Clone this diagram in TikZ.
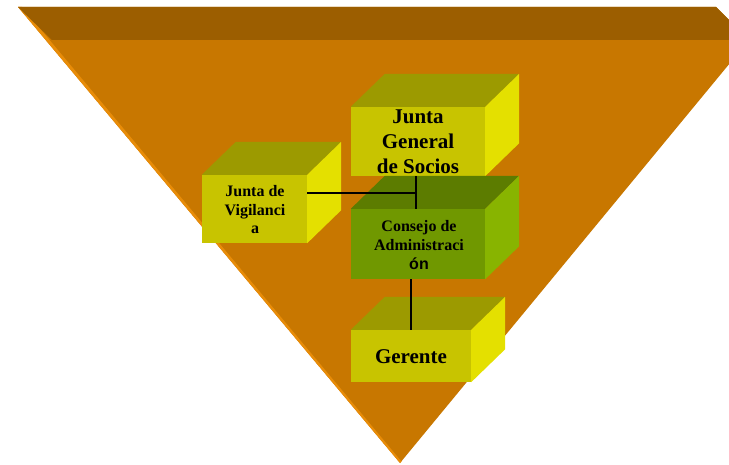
\documentclass[tikz,border=0pt]{standalone}
\usepackage{fontspec}
\setmainfont{Liberation Serif}
\usetikzlibrary{calc}
\definecolor{orfront}{HTML}{C87700}
\definecolor{ortop}{HTML}{9C5E00}
\definecolor{orside}{HTML}{E88C08}
\definecolor{yfront}{HTML}{C8C400}
\definecolor{ytop}{HTML}{9C9A00}
\definecolor{yside}{HTML}{E4E000}
\definecolor{gfront}{HTML}{709800}
\definecolor{gtop}{HTML}{5C7C00}
\definecolor{gside}{HTML}{88B400}
\tikzset{
  frontbox/.style={rectangle, inner sep=0pt, draw=none},
  boxtext/.style={inner sep=0pt, align=center, font=\bfseries},
  conn/.style={draw=black, line width=1.5pt},
}
\newcommand\cubefaces[3]{% node, top colour, side colour
  \fill[#2] (#1.north west) -- ++(34,-33) -- ($(#1.north east)+(34,-33)$) -- (#1.north east) -- cycle;
  \fill[#3] (#1.north east) -- ++(34,-33) -- ($(#1.south east)+(34,-33)$) -- (#1.south east) -- cycle;
}
\begin{document}
\begin{tikzpicture}[x=1pt,y=-1pt]
\useasboundingbox (0,0) rectangle (729,465);
\clip (0,0) rectangle (729,465);
% inverted pyramid
\fill[orfront] (18,7) -- (716,7) -- (749,40) -- (400,463) -- cycle;
\fill[orside] (18,7) -- (22,7) -- (401.5,461.5) -- (400,463) -- cycle;
\fill[ortop] (18,7) -- (716,7) -- (749,40) -- (52,40) -- cycle;

% Junta de Vigilancia
\node[frontbox, fill=yfront, minimum width=105pt, minimum height=68pt] (jv) at (254.5,209) {};
\cubefaces{jv}{ytop}{yside}
% Junta General de Socios
\node[frontbox, fill=yfront, minimum width=134pt, minimum height=69pt] (jg) at (418,141.5) {};
\cubefaces{jg}{ytop}{yside}
% Consejo de Administracion
\node[frontbox, fill=gfront, minimum width=134pt, minimum height=70pt] (cd) at (418,244) {};
\cubefaces{cd}{gtop}{gside}
% Gerente
\node[frontbox, fill=yfront, minimum width=120pt, minimum height=52pt] (ge) at (411,356) {};
\cubefaces{ge}{ytop}{yside}

% texts
\node[boxtext, font=\bfseries\fontsize{21}{25}\selectfont] (tjg) at (418,142) {Junta\\General\\de Socios};
\node[boxtext, font=\bfseries\fontsize{16}{18.5}\selectfont] (tjv) at (255,210) {Junta de\\Vigilanci\\a};
\node[boxtext, font=\bfseries\fontsize{16}{19}\selectfont] (tcd) at (419,245) {Consejo de\\Administraci\\{\fontspec{Liberation Sans}ón}};
\node[boxtext, font=\bfseries\fontsize{21}{25}\selectfont, anchor=base] (tge) at (411,363) {Gerente};

% connectors
\coordinate (j1) at (416,193);
\draw[conn] (jv.east |- j1) -- (j1);
\draw[conn] (j1 |- jg.south) -- (j1 |- cd.north);
\draw[conn] (ge.north |- cd.south) -- (ge.north);
\end{tikzpicture}
\end{document}
